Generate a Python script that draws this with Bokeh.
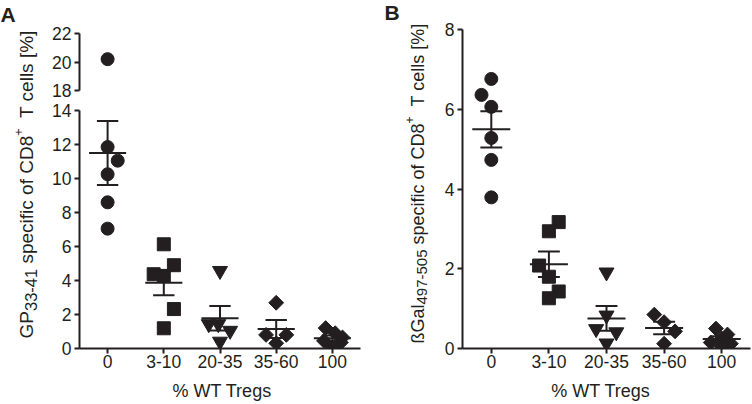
import numpy as np
from bokeh.plotting import figure
from bokeh.layouts import row, column
from bokeh.models import Range1d, FixedTicker, Label
from bokeh.embed import file_html
from bokeh.resources import INLINE

# ---------------- data ----------------
categories = ["0", "3-10", "20-35", "35-60", "100"]

# Panel A: GP33-41 specific of CD8+ T cells [%]
gp_0 = [20.2, 11.85, 11.05, 10.25, 8.6, 7.05]
gp_3_10 = [6.13, 4.9, 4.37, 4.27, 2.32, 1.19]
gp_20_35 = [4.57, 1.44, 1.44, 1.05, 0.41]
gp_35_60 = [2.69, 0.8, 0.8, 0.31]
gp_100 = [1.2, 0.9, 0.65, 0.45, 0.35, 0.1]

# Panel B: ßGal497-505 specific of CD8+ T cells [%]
gal_0 = [6.76, 6.36, 6.06, 5.28, 4.73, 3.79]
gal_3_10 = [3.17, 2.94, 2.08, 1.80, 1.43, 1.26]
gal_20_35 = [1.91, 0.83, 0.49, 0.41, 0.13]
gal_35_60 = [0.85, 0.66, 0.43, 0.12]
gal_100 = [0.5, 0.35, 0.25, 0.15, 0.12, 0.05]

gp_groups = [gp_0, gp_3_10, gp_20_35, gp_35_60, gp_100]
gal_groups = [gal_0, gal_3_10, gal_20_35, gal_35_60, gal_100]

# horizontal scatter of the points inside a column (fraction of category step)
gp_spread = [[0, 0, 0.18, 0, 0, 0],
             [0, 0.18, -0.18, 0, 0.18, 0],
             [0, -0.2, -0.03, 0.18, 0],
             [0, -0.18, 0.18, 0],
             [-0.12, 0.05, 0.18, -0.15, 0.15, 0]]
gal_spread = [[0, -0.17, 0, 0, 0, 0],
              [0.17, 0, -0.17, 0, 0.17, 0],
              [0, 0, -0.18, 0.17, 0],
              [-0.17, 0, 0.19, 0],
              [-0.1, 0.1, 0, -0.19, 0.16, 0]]

markers = ["circle", "square", "inverted_triangle", "diamond", "diamond"]

# axis label pieces: (text, role) role: main / sub / sup
gp_label = [("GP", "main"), ("33-41", "sub"), (" specific of CD8", "main"),
            ("+", "sup"), ("  T cells [%]", "main")]
gal_label = [("ßGal", "main"), ("497-505", "sub"), (" specific of CD8", "main"),
             ("+", "sup"), ("  T cells [%]", "main")]
x_label = "% WT Tregs"

# ---------------- style ----------------
INK = "#231f20"
FONT = "Liberation Sans"
TICK_SIZE = "17.5px"
MAIN_PX = 18
ROLE_A = {"main": (19, 0), "sub": (16.5, 4), "sup": (12.5, -8)}
ROLE_B = {"main": (18, 0), "sub": (15, 4), "sup": (12, -8)}

# Arial / Liberation Sans advance widths (1/1000 em)
ADV = {"G": 778, "P": 667, "-": 333, " ": 278, "s": 500, "p": 556, "e": 556,
       "c": 500, "i": 222, "f": 278, "o": 556, "C": 722, "D": 722, "+": 584,
       "T": 611, "l": 222, "[": 278, "%": 889, "]": 278, "ß": 611, "a": 556,
       "W": 944, "r": 333, "g": 556}


def adv(text, px):
    return sum(ADV.get(ch, 556) for ch in text) * px / 1000.0


def style(p):
    p.outline_line_color = None
    p.grid.visible = False
    for ax in p.axis:
        ax.axis_line_color = INK
        ax.axis_line_width = 2
        ax.major_tick_line_color = INK
        ax.major_tick_line_width = 2
        ax.major_tick_out = 5
        ax.major_tick_in = 0
        ax.minor_tick_line_color = None
        ax.major_label_text_font = FONT
        ax.major_label_text_font_size = TICK_SIZE
        ax.major_label_text_color = INK
        ax.major_label_standoff = 3


def draw(p, groups, spreads):
    for i, (vals, spread) in enumerate(zip(groups, spreads)):
        xc = i + 1
        xs = [xc + s for s in spread]
        kind = markers[i]
        if kind == "diamond":
            p.scatter(xs, vals, marker="square", angle=np.pi / 4, size=10.5,
                      fill_color=INK, line_color=INK)
        elif kind == "inverted_triangle":
            p.scatter(xs, vals, marker=kind, size=15, fill_color=INK, line_color=INK)
        else:
            p.scatter(xs, vals, marker=kind, size=13, fill_color=INK, line_color=INK)
        arr = np.array(vals, dtype=float)
        m = arr.mean()
        sem = arr.std(ddof=1) / np.sqrt(len(arr))
        p.segment(x0=[xc - 0.33, xc, xc - 0.19, xc - 0.19],
                  y0=[m, m - sem, m - sem, m + sem],
                  x1=[xc + 0.33, xc, xc + 0.19, xc + 0.19],
                  y1=[m, m + sem, m - sem, m + sem],
                  line_width=2, line_color=INK)


def xaxis_setup(p):
    p.xaxis.ticker = FixedTicker(ticks=[1, 2, 3, 4, 5])
    p.xaxis.major_label_overrides = {i + 1: c for i, c in enumerate(categories)}
    p.xaxis.major_label_standoff = 1


def strip(width, height):
    s = figure(width=width, height=height, x_range=Range1d(0, width),
               y_range=Range1d(0, height), output_backend="svg",
               toolbar_location=None, min_border=0,
               x_axis_location=None, y_axis_location=None)
    s.outline_line_color = None
    s.grid.visible = False
    return s


def vertical_label(s, x_base, y_start, pieces, roles):
    y = y_start
    for text, role in pieces:
        px, shift = roles[role]
        stripped = text.lstrip()
        lead = adv(text[:len(text) - len(stripped)], px)
        s.add_layout(Label(x=x_base + shift, y=y + lead, text=stripped.rstrip(),
                           angle=np.pi / 2, text_font=FONT, text_font_size=f"{px}px",
                           text_align="left", text_baseline="alphabetic",
                           text_color=INK))
        y += adv(text, px)


def horizontal_label(s, x_center, y, text):
    s.add_layout(Label(x=x_center - adv(text, MAIN_PX) / 2, y=y, text=text,
                       text_font=FONT, text_font_size=f"{MAIN_PX}px",
                       text_align="left", text_baseline="alphabetic",
                       text_color=INK))


def letter(s, x, y, t):
    s.add_layout(Label(x=x, y=y, text=t, text_font=FONT, text_font_size="21px",
                       text_font_style="bold", text_baseline="top", text_align="left",
                       text_color=INK))


# ---------------- panel A ----------------
labA = strip(44, 404)
letter(labA, 0, 402, "A")
vertical_label(labA, 26, 404 - 338, gp_label, ROLE_A)

xr = Range1d(0.5, 5.5)
upper = figure(width=331, height=100, x_range=xr, y_range=Range1d(18, 22),
               output_backend="svg", toolbar_location=None, x_axis_location=None,
               min_border_left=35, min_border_right=15, min_border_top=33,
               min_border_bottom=10)
style(upper)
upper.yaxis.ticker = FixedTicker(ticks=[18, 20, 22])
draw(upper, gp_groups, gp_spread)

lower = figure(width=331, height=276, x_range=xr, y_range=Range1d(0, 14),
               output_backend="svg", toolbar_location=None,
               min_border_left=35, min_border_right=15, min_border_top=10,
               min_border_bottom=28)
style(lower)
lower.yaxis.ticker = FixedTicker(ticks=[0, 2, 4, 6, 8, 10, 12, 14])
xaxis_setup(lower)
draw(lower, gp_groups, gp_spread)

xlabA = strip(331, 28)
horizontal_label(xlabA, 203.5 - 44, 14, x_label)

# ---------------- panel B ----------------
labB = strip(62, 404)
letter(labB, 9, 404, "B")
vertical_label(labB, 42, 404 - 343, gal_label, ROLE_B)

right = figure(width=315, height=376, x_range=Range1d(0.5, 5.5), y_range=Range1d(0, 8),
               output_backend="svg", toolbar_location=None,
               min_border_left=25, min_border_right=2, min_border_top=29,
               min_border_bottom=28)
style(right)
right.yaxis.ticker = FixedTicker(ticks=[0, 2, 4, 6, 8])
xaxis_setup(right)
draw(right, gal_groups, gal_spread)

xlabB = strip(315, 28)
horizontal_label(xlabB, 584 - 437, 14, x_label)

layout = row(labA, column(upper, lower, xlabA), labB, column(right, xlabB))

open("out.html", "w").write(file_html(layout, INLINE))
